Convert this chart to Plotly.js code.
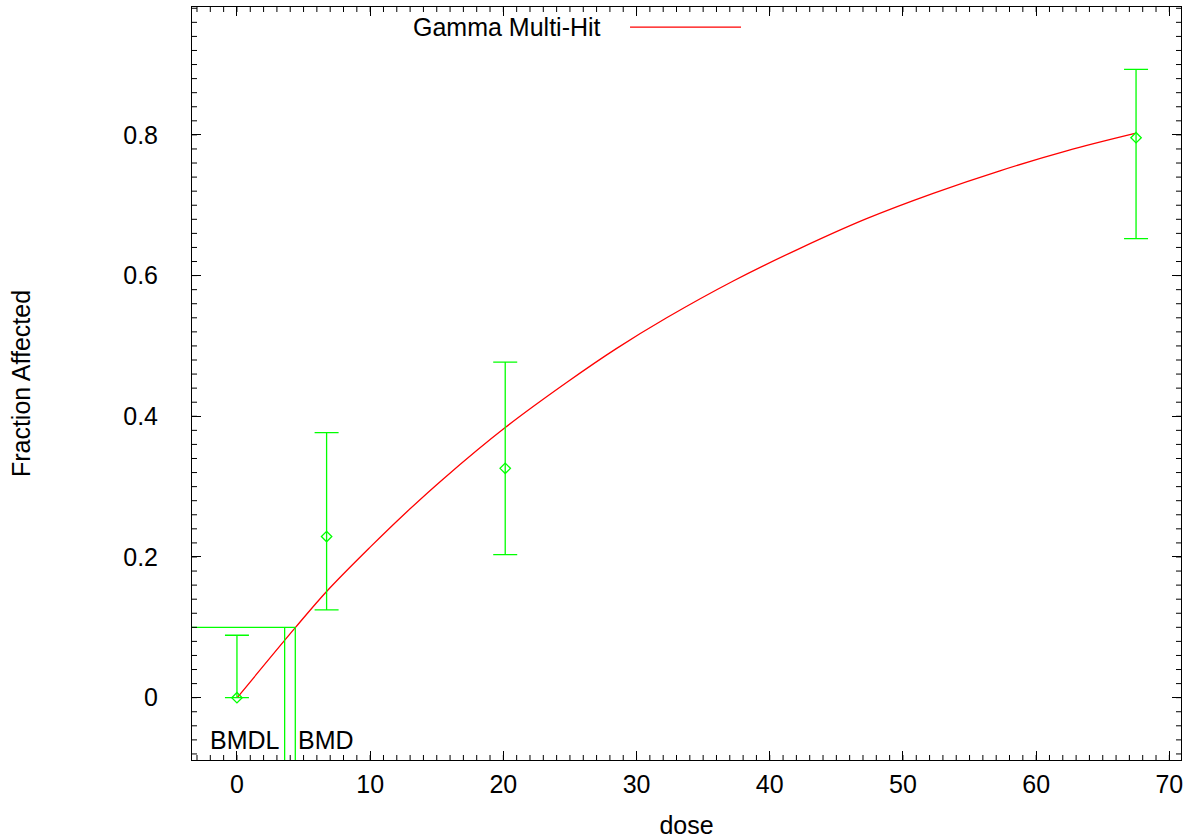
<!DOCTYPE html>
<html>
<head>
<meta charset="utf-8">
<script src="https://cdn.plot.ly/plotly-3.0.1.min.js"></script>
<style>
  html, body { margin: 0; padding: 0; background: #fff; }
  #chart { width: 1200px; height: 839px; }
</style>
</head>
<body>
<div id="chart"></div>
<script>
// Observed dose groups
const dose = [0, 6.73, 20.14, 67.5];
const fractionAffected = [0, 0.229, 0.326, 0.796];
const ciUpper = [0.0887, 0.3767, 0.477, 0.893];
const ciLower = [0, 0.1247, 0.2033, 0.6525];

// Fitted Gamma Multi-Hit curve
const fitDose = [0.02, 4.38, 6.73, 10.0, 12.74, 15.49, 20.14, 24.75, 28.51,
                 32.26, 37.26, 42.27, 47.27, 52.27, 57.28, 62.29, 67.42];
const fitResponse = [0.0, 0.0995, 0.151, 0.214, 0.264, 0.311, 0.384, 0.448, 0.4965,
                     0.540, 0.5923, 0.6388, 0.681, 0.717, 0.749, 0.7773, 0.802];

// Benchmark dose results
const bmr = 0.1;
const bmd = 4.38;
const bmdl = 3.58;

const xRange = [-3.375, 70.875];
const yRange = [-0.0886, 0.9818];
const xMinorStep = 1;
const yMinorStep = 0.02;

const green = '#00ff00';
const red = '#ff0000';
const clear = 'rgba(0,0,0,0)';
const font = { family: 'Liberation Sans, Arial, sans-serif', size: 25, color: '#000' };

const traces = [
  {
    x: fitDose, y: fitResponse, mode: 'lines', name: 'Gamma Multi-Hit',
    line: { color: red, width: 1.3, shape: 'spline', smoothing: 1 },
    showlegend: false
  },
  {
    x: dose, y: fractionAffected, mode: 'markers', name: 'Data',
    marker: { symbol: 'diamond-open', size: 8, color: green, line: { color: green, width: 1.3 } },
    error_y: {
      type: 'data', symmetric: false,
      array: ciUpper.map((u, i) => u - fractionAffected[i]),
      arrayminus: fractionAffected.map((f, i) => f - ciLower[i]),
      color: green, thickness: 1.3, width: 12
    },
    showlegend: false
  },
  {
    x: [xRange[0], bmd], y: [bmr, bmr], mode: 'lines',
    line: { color: green, width: 1.3 }, showlegend: false
  },
  {
    x: [bmd, bmd], y: [bmr, yRange[0]], mode: 'lines',
    line: { color: green, width: 1.3 }, showlegend: false
  },
  {
    x: [bmdl, bmdl], y: [bmr, yRange[0]], mode: 'lines',
    line: { color: green, width: 1.3 }, showlegend: false
  }
];

// Short inward tick marks between the labelled ticks, on all four sides
const tickLine = { color: '#000', width: 1 };
const minorShapes = [];
for (let k = Math.ceil(xRange[0] / xMinorStep); k * xMinorStep <= xRange[1]; k++) {
  const v = k * xMinorStep;
  minorShapes.push({ type: 'line', xref: 'x', yref: 'paper', ysizemode: 'pixel', yanchor: 0,
                     x0: v, x1: v, y0: 0, y1: 5, line: tickLine });
  minorShapes.push({ type: 'line', xref: 'x', yref: 'paper', ysizemode: 'pixel', yanchor: 1,
                     x0: v, x1: v, y0: 0, y1: -5, line: tickLine });
}
for (let k = Math.ceil(yRange[0] / yMinorStep); k * yMinorStep <= yRange[1]; k++) {
  const v = +(k * yMinorStep).toFixed(4);
  minorShapes.push({ type: 'line', xref: 'paper', yref: 'y', xsizemode: 'pixel', xanchor: 0,
                     x0: 0, x1: 5, y0: v, y1: v, line: tickLine });
  minorShapes.push({ type: 'line', xref: 'paper', yref: 'y', xsizemode: 'pixel', xanchor: 1,
                     x0: 0, x1: -5, y0: v, y1: v, line: tickLine });
}

const layout = {
  width: 1200, height: 839,
  margin: { l: 192, r: 19, t: 7, b: 79 },
  showlegend: false,
  xaxis: {
    range: xRange, showline: true, linecolor: '#000', mirror: 'ticks',
    ticks: 'inside', ticklen: 9, tickcolor: '#000', tickmode: 'linear', tick0: 0, dtick: 10,
    gridcolor: clear, zerolinecolor: clear,
    tickfont: font, ticklabelstandoff: 2,
    title: { text: 'dose', font: font, standoff: 26 }
  },
  yaxis: {
    range: yRange, showline: true, linecolor: '#000', mirror: 'ticks',
    ticks: 'inside', ticklen: 9, tickcolor: '#000', tickmode: 'linear', tick0: 0, dtick: 0.2,
    gridcolor: clear, zerolinecolor: clear,
    tickfont: font, ticklabelstandoff: 28,
    title: { text: 'Fraction Affected', font: font, standoff: 85 }
  },
  annotations: [
    { x: bmdl, y: -0.06, xref: 'x', yref: 'y', text: 'BMDL', showarrow: false,
      xanchor: 'right', yanchor: 'middle', xshift: -3, font: font },
    { x: bmd, y: -0.06, xref: 'x', yref: 'y', text: 'BMD', showarrow: false,
      xanchor: 'left', yanchor: 'middle', xshift: 1, font: font },
    { x: 0.4156, y: 0.9734, xref: 'paper', yref: 'paper', text: 'Gamma Multi-Hit', showarrow: false,
      xanchor: 'right', yanchor: 'middle', font: font }
  ],
  shapes: [
    { type: 'line', xref: 'paper', yref: 'paper', x0: 0.4429, x1: 0.5551, y0: 0.9734, y1: 0.9734,
      line: { color: red, width: 1.3 } }
  ].concat(minorShapes)
};

Plotly.newPlot('chart', traces, layout, { displayModeBar: false });
</script>
</body>
</html>
